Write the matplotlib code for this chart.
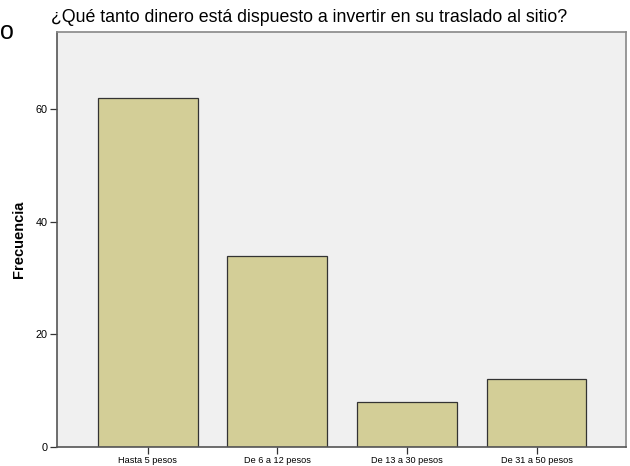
import matplotlib
matplotlib.use("Agg")
import matplotlib.pyplot as plt
import numpy as np

# datos del gráfico
categorias = ["Hasta 5 pesos", "De 6 a 12 pesos", "De 13 a 30 pesos", "De 31 a 50 pesos"]
frecuencias = [62, 34, 8, 12]
y_ticks = [0, 20, 40, 60]

titulo = "¿Qué tanto dinero está dispuesto a invertir en su traslado al sitio?"

plt.rcParams["font.family"] = ["Liberation Sans", "DejaVu Sans"]

fig = plt.figure(figsize=(6.3, 4.66), dpi=100)
ax = fig.add_axes([0.0905, 0.0408, 0.9032, 0.8905])
ax.set_facecolor("#F0F0F0")

x = np.arange(len(categorias))
ax.bar(x, frecuencias, width=0.77, color="#D3CE97", edgecolor="#333333", linewidth=0.9)

ax.set_xlim(-0.70, 3.69)
ax.set_ylim(0, 73.7)
ax.set_xticks(x)
ax.set_xticklabels(categorias, fontsize=6.6)
ax.set_yticks(y_ticks)
ax.set_yticklabels([str(v) for v in y_ticks], fontsize=7.8)
ax.tick_params(axis="both", direction="out", length=5, width=0.9, color="#333333", pad=1.5)

for s in ax.spines.values():
    s.set_color("#888888")
    s.set_linewidth(1.2)
ax.spines["left"].set_color("#555555")
ax.spines["bottom"].set_color("#555555")

ax.set_ylabel("Frecuencia", fontsize=10.5, fontweight="bold", labelpad=7)

fig.text(51 / 630, 1 - 18 / 466, titulo, fontsize=12.8, ha="left", va="center")
fig.text(7 / 630, 1 - 32 / 466, "o", fontsize=18, ha="center", va="center")

fig.savefig("out.png", dpi=100)
